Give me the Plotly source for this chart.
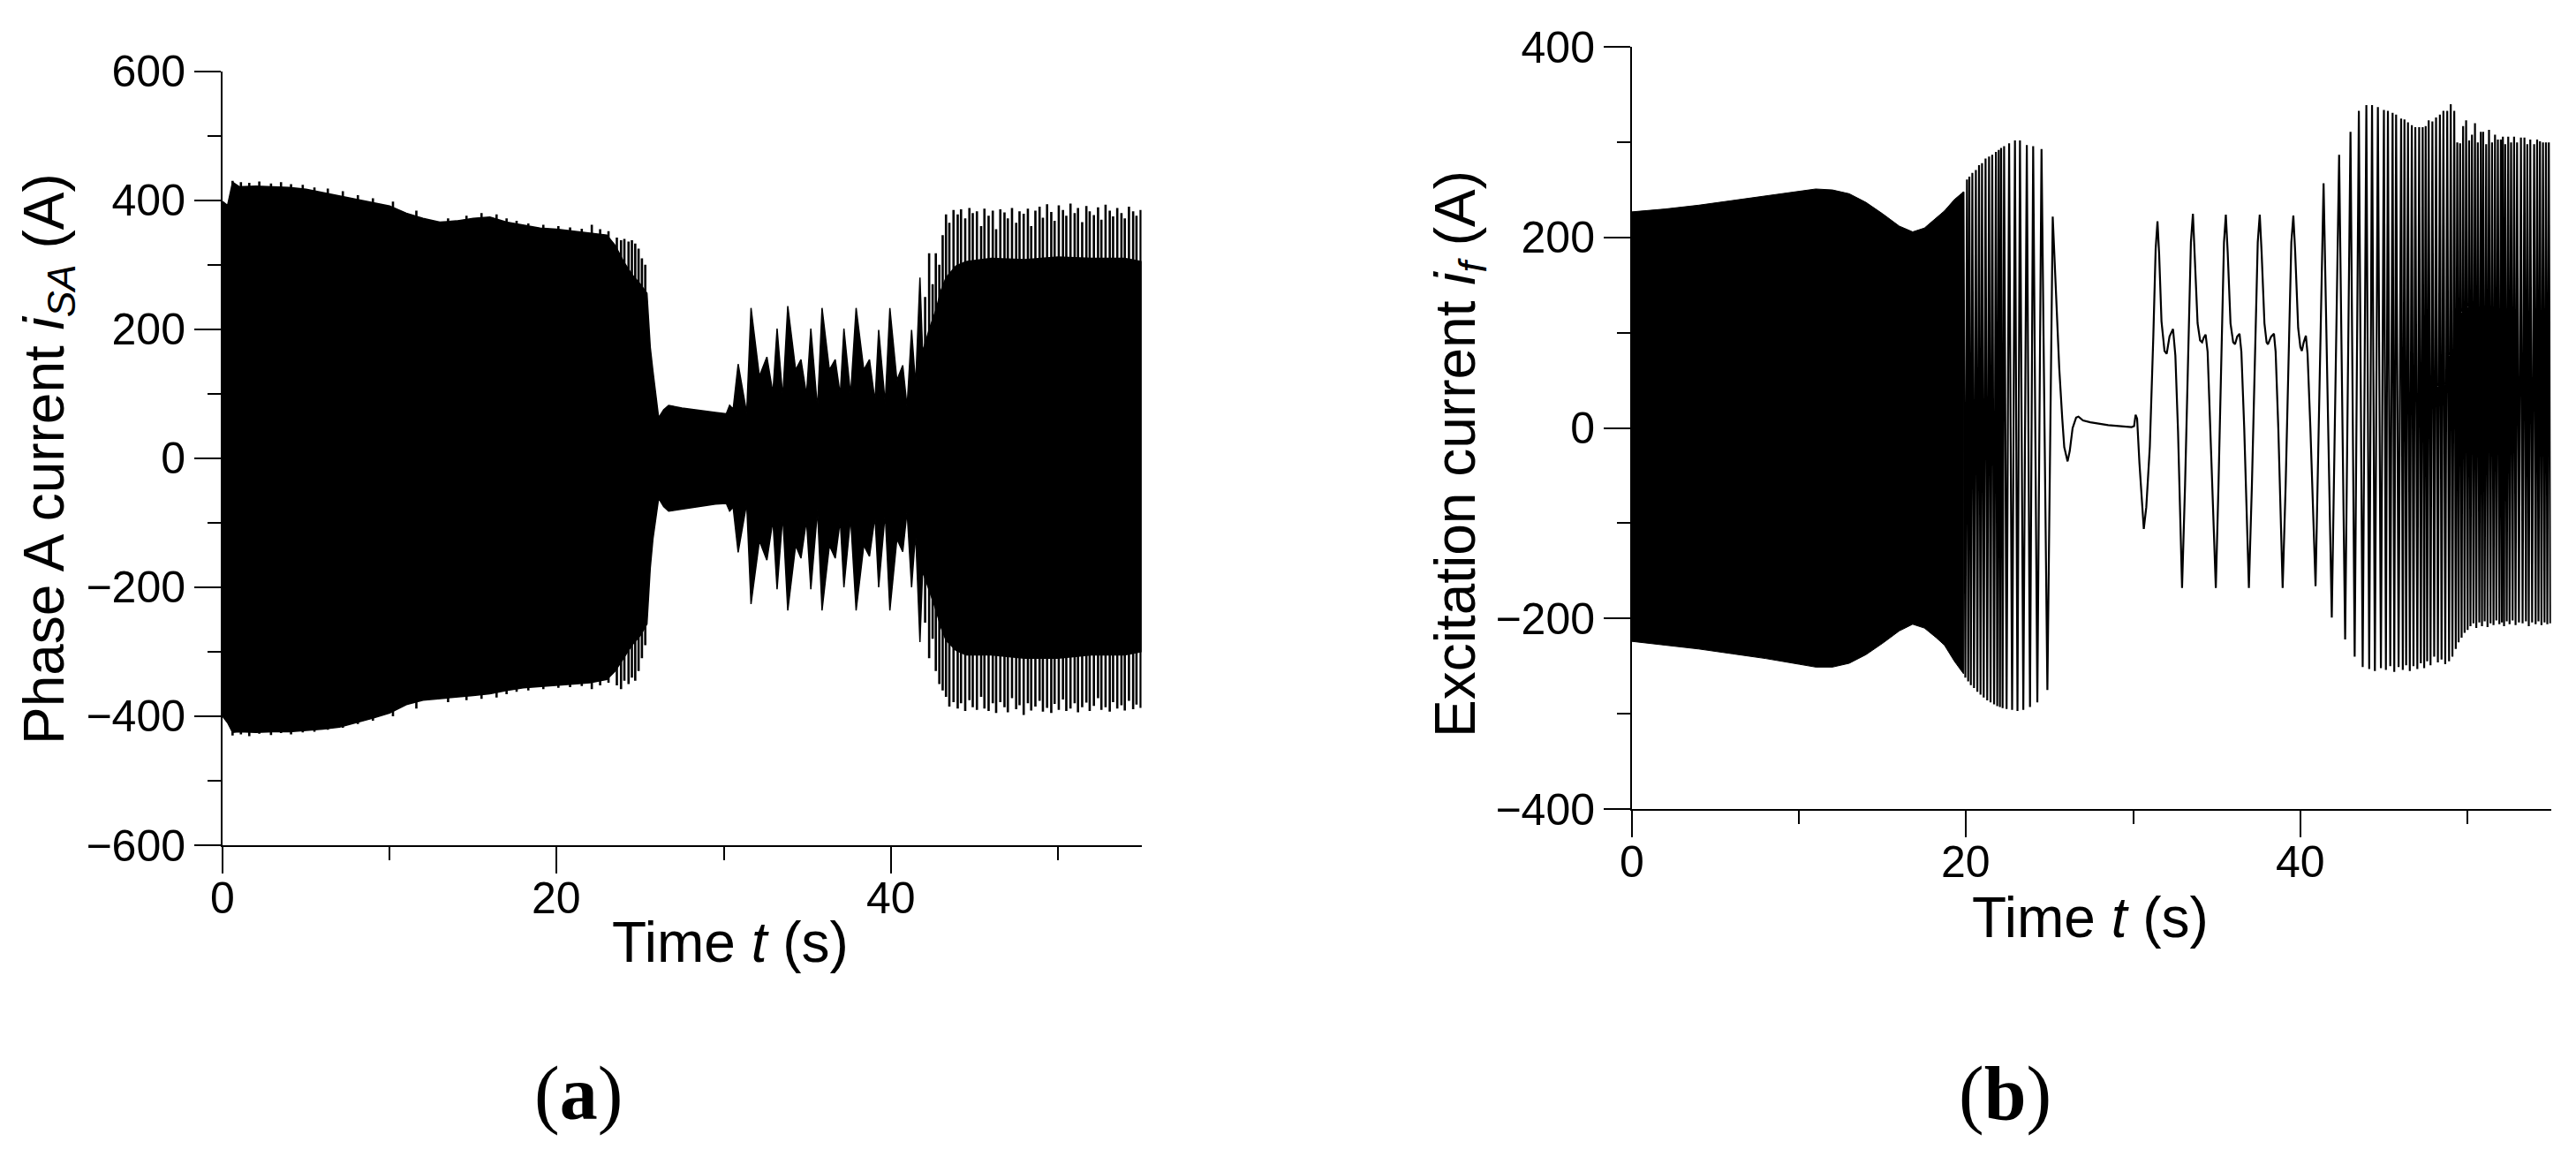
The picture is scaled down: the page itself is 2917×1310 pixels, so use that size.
import plotly.graph_objects as go

W, H = 2917, 1310

# ---------------- Panel (a): phase A current i_SA ----------------
# envelope of the dense oscillation (upper / lower), time in s, current in A
a_t = [0, 0.3, 0.6, 1, 2, 3, 4, 5, 6, 7, 8, 9, 10, 11, 12, 13, 14, 15, 16, 17, 18, 19, 20, 21, 22, 23,
       23.5, 24, 24.5, 25.0, 25.4, 25.6, 25.76, 26.1, 26.4, 26.7, 27.5, 28.5, 29.5,
       30.15, 30.35, 30.56, 30.86, 31.37, 31.63,
       32.13, 32.58, 32.94, 33.19, 33.53, 33.83,
       34.30, 34.62, 34.95, 35.21, 35.61, 35.88,
       36.32, 36.67, 36.97, 37.19, 37.59, 37.92,
       38.38, 38.72, 39.05, 39.27, 39.66, 39.94,
       40.36, 40.71, 40.97, 41.24, 41.48, 41.74,
       41.9, 42.3, 42.7, 43.0, 43.3, 43.9, 44.5, 46, 48, 50, 52, 54, 55]
a_up = [398, 392, 428, 421, 422, 421, 420, 417, 412, 407, 402, 397, 391, 380, 372, 366, 368, 372, 374, 366, 362, 357, 355, 352, 350, 346,
        330, 305, 285, 270, 256, 172, 135, 63, 75, 82, 78, 75, 71,
        69, 82, 76, 146, 70, 233,
        127, 157, 101, 201, 94, 236,
        137, 153, 98, 201, 76, 233,
        137, 153, 98, 201, 98, 233,
        137, 153, 88, 199, 85, 233,
        121, 144, 79, 199, 113, 280,
        165, 200, 230, 260, 280, 298, 305, 310, 308, 312, 310, 310, 305]
a_lo = [-400, -410, -425, -424, -425, -424, -424, -422, -420, -417, -410, -403, -395, -382, -375, -372, -370, -368, -365, -360, -356, -354, -352, -350, -348, -343,
        -330, -310, -290, -275, -257, -170, -125, -62, -75, -82, -79, -75, -71,
        -70, -82, -76, -146, -70, -226,
        -128, -158, -96, -203, -88, -236,
        -135, -155, -96, -203, -80, -236,
        -135, -155, -96, -200, -92, -236,
        -135, -152, -90, -200, -85, -236,
        -125, -145, -82, -200, -115, -285,
        -175, -205, -235, -262, -282, -298, -305, -305, -310, -310, -305, -305, -300]

# individual cycle peaks sticking out of the dense band
a_spk_t = [0.6, 1.1, 1.6, 2.2, 2.9, 3.5, 4.1, 4.8, 5.5, 6.3, 7.2, 8.1, 9.0, 10.2, 11.6, 13.5, 14.6, 15.5,
           16.4, 17.0, 17.6, 18.3, 19.2, 20.1, 20.8, 21.5, 22.1, 22.6, 23.1,
           23.6, 23.85, 24.05, 24.3, 24.5, 24.7, 24.9, 25.1, 25.3,
           42.05, 42.29, 42.5, 42.69, 42.9, 43.1, 43.3, 43.5, 43.75, 44.0, 44.2, 44.45, 44.7, 44.9,
           45.15, 45.4, 45.6, 45.85, 46.1, 46.3, 46.55, 46.8, 47.0, 47.25, 47.5, 47.7, 47.95, 48.2,
           48.4, 48.65, 48.9, 49.1, 49.35, 49.6, 49.8, 50.05, 50.3, 50.5, 50.75, 51.0, 51.2, 51.45,
           51.7, 51.9, 52.15, 52.4, 52.6, 52.85, 53.1, 53.3, 53.55, 53.8, 54.0, 54.25, 54.5, 54.7, 54.95]
a_spk_up = [430, 428, 427, 429, 426, 428, 425, 424, 420, 418, 414, 408, 403, 398, 384, 372, 376, 380,
            378, 372, 368, 364, 362, 360, 358, 356, 362, 355, 352,
            342, 338, 340, 336, 338, 333, 325, 310, 300,
            250, 318, 270, 318, 300, 346, 378, 365, 385, 378, 386, 372, 388, 380,
            383, 360, 387, 376, 384, 355, 386, 381, 372, 388, 365, 383, 379, 387,
            360, 384, 390, 373, 394, 382, 368, 392, 385, 376, 395, 380, 388, 366,
            391, 383, 377, 389, 370, 393, 384, 375, 388, 380, 372, 390, 383, 376, 385]
a_spk_lo = [-430, -428, -431, -427, -429, -426, -428, -425, -424, -421, -418, -412, -407, -400, -388, -378, -375, -373,
            -371, -366, -362, -360, -358, -356, -355, -353, -358, -352, -348,
            -352, -358, -345, -350, -340, -345, -330, -310, -290,
            -255, -310, -280, -330, -350, -360, -370, -385, -378, -388, -380, -392, -375, -386,
            -390, -370, -388, -392, -380, -395, -378, -386, -394, -372, -389, -383, -398, -380,
            -391, -385, -376, -393, -387, -395, -381, -390, -374, -392, -388, -380, -394, -386,
            -379, -392, -384, -372, -390, -386, -393, -378, -388, -383, -391, -376, -389, -382, -387]

# ---------------- Panel (b): excitation current i_f ----------------
b_band_t = [0, 2, 4, 6, 8, 10, 11, 12, 13, 14, 15, 16, 16.8, 17.5, 18.2, 18.7, 19.3, 19.84]
b_band_up = [227, 230, 234, 239, 244, 249, 251, 250, 246, 237, 225, 212, 206, 210, 220, 228, 240, 248]
b_band_lo = [-224, -228, -232, -237, -242, -248, -251, -251, -247, -238, -226, -213, -206, -210, -220, -228, -245, -258]

# visible oscillation lines 19.8-25.2 s (alternating peaks and troughs)
b_osc1_t = [19.84, 19.95, 20.05, 20.12, 20.19, 20.28, 20.37, 20.47, 20.58, 20.67, 20.77, 20.86, 20.95, 21.05,
            21.16, 21.26, 21.37, 21.46, 21.56, 21.67, 21.78, 21.86, 21.95, 22.02, 22.09, 22.18, 22.27, 22.42,
            22.57, 22.75, 22.92, 23.07, 23.22, 23.42, 23.63, 23.82, 24.01, 24.26, 24.51, 24.86, 25.18]
b_osc1_v = [248, -262, 261, -266, 264, -270, 268, -273, 271, -277, 276, -280, 278, -283,
            283, -286, 285, -288, 287, -290, 290, -292, 292, -293, 294, -294, 296, -295,
            299, -296, 302, -297, 302, -296, 297, -293, 296, -288, 293, -275, 222]

# slow waveform 25.2-41 s
b_wave_t = [25.18, 25.39, 25.57, 25.75, 25.87, 26.07, 26.2, 26.37, 26.58, 26.72, 26.99, 27.43, 28.5, 29.9,
            30.05, 30.14, 30.23, 30.37, 30.55, 30.63, 30.78, 30.99, 31.2, 31.34, 31.45, 31.55, 31.69, 31.87,
            32.0, 32.17, 32.38, 32.52, 32.68, 32.82, 32.92,
            33.1, 33.3, 33.45, 33.57, 33.68, 33.85, 34.0, 34.12, 34.22, 34.33, 34.45, 34.62, 34.8, 34.94,
            35.1, 35.3, 35.43, 35.54, 35.65, 35.82, 35.98, 36.09, 36.22, 36.36, 36.47, 36.64, 36.8, 36.92,
            37.1, 37.3, 37.45, 37.57, 37.68, 37.85, 37.98, 38.06, 38.25, 38.42, 38.52, 38.68, 38.83, 38.94,
            39.12, 39.32, 39.46, 39.58, 39.69, 39.87, 40.0, 40.09, 40.2, 40.33, 40.43, 40.6, 40.78, 40.91]
b_wave_v = [222, 129, 63, 10, -20, -35, -24, 0, 11, 12, 8, 6, 3, 1,
            2, 14, 10, -37, -90, -106, -83, -20, 96, 188, 217, 182, 112, 81,
            78, 96, 104, 76, -4, -86, -168,
            -60, 90, 195, 225, 185, 110, 92, 90, 95, 98, 80, 0, -100, -168,
            -60, 90, 195, 224, 185, 110, 90, 88, 96, 99, 80, 0, -100, -168,
            -60, 90, 195, 224, 185, 110, 90, 88, 96, 99, 80, 0, -100, -168,
            -60, 90, 195, 223, 185, 105, 85, 81, 90, 97, 78, 0, -100, -166]

# fast oscillation 41-55 s: peaks and troughs
b_pk_t = [41.39, 42.32, 43.0, 43.5, 43.95, 44.29, 44.64, 45.0, 45.24, 45.52, 45.73, 46.03, 46.23, 46.44,
          46.67, 46.88, 47.11, 47.32, 47.5, 47.68, 47.9, 48.12, 48.35, 48.56, 48.79, 49.0, 49.21, 49.39,
          49.56, 49.74, 49.92, 50.1, 50.27, 50.45, 50.62, 50.8, 50.94, 51.12, 51.29, 51.47, 51.65, 51.82,
          52.0, 52.12, 52.26, 52.44, 52.61, 52.79, 52.97, 53.2, 53.41, 53.58, 53.76, 53.99, 54.17, 54.34,
          54.52, 54.7, 54.87]
b_pk_v = [257, 287, 311, 333, 339, 339, 337, 334, 333, 331, 329, 325, 324, 321,
          318, 316, 316, 316, 317, 323, 322, 326, 329, 333, 333, 340, 333, 300,
          299, 317, 323, 302, 308, 320, 300, 311, 311, 298, 313, 300, 308, 303,
          303, 306, 298, 306, 300, 306, 300, 305, 305, 298, 303, 298, 303, 301,
          300, 300, 300]
b_tr_t = [41.88, 42.68, 43.25, 43.73,
          44.12, 44.46, 44.82, 45.12, 45.38, 45.62, 45.88, 46.13, 46.33, 46.55,
          46.77, 47.0, 47.21, 47.41, 47.59, 47.79, 48.01, 48.23, 48.45, 48.67,
          48.9, 49.1, 49.3, 49.47, 49.65, 49.83, 50.01, 50.18, 50.36, 50.53,
          50.71, 50.87, 51.03, 51.2, 51.38, 51.56, 51.73, 51.91, 52.06, 52.19,
          52.35, 52.52, 52.7, 52.88, 53.08, 53.3, 53.5, 53.67, 53.87, 54.08,
          54.25, 54.43, 54.61, 54.78, 54.96]
b_tr_v = [-199, -222, -240, -251,
          -253, -255, -252, -254, -250, -256, -251, -254, -249, -255,
          -250, -253, -247, -252, -245, -249, -240, -246, -243, -248,
          -245, -240, -232, -225, -220, -215, -212, -208, -205, -210,
          -204, -208, -203, -209, -205, -207, -202, -206, -204, -208,
          -203, -206, -202, -207, -204, -205, -203, -208, -204, -206,
          -203, -207, -204, -206, -205]

x_ticks = [0, 20, 40]
a_y_ticks = [-600, -400, -200, 0, 200, 400, 600]
b_y_ticks = [-400, -200, 0, 200, 400]

# ---------------- build figure ----------------
fig = go.Figure()
BLK = "black"

# (a) dense band
fig.add_trace(go.Scatter(x=a_t + a_t[::-1], y=a_up + a_lo[::-1], fill="toself", fillcolor=BLK,
                         mode="lines", line=dict(color=BLK, width=1.5), xaxis="x", yaxis="y",
                         hoverinfo="skip", showlegend=False))
# (a) spikes
sx, sy = [], []
for t, u, l in zip(a_spk_t, a_spk_up, a_spk_lo):
    sx += [t, t, None]
    sy += [l, u, None]
fig.add_trace(go.Scatter(x=sx, y=sy, mode="lines", line=dict(color=BLK, width=2.6),
                         xaxis="x", yaxis="y", hoverinfo="skip", showlegend=False))

# (b) dense band
fig.add_trace(go.Scatter(x=b_band_t + b_band_t[::-1], y=b_band_up + b_band_lo[::-1], fill="toself",
                         fillcolor=BLK, mode="lines", line=dict(color=BLK, width=1),
                         xaxis="x2", yaxis="y2", hoverinfo="skip", showlegend=False))
# (b) oscillation + waveform + fast oscillation as one line
pts = sorted(list(zip(b_pk_t, b_pk_v)) + list(zip(b_tr_t, b_tr_v)))
bx = b_osc1_t + b_wave_t[1:] + [p[0] for p in pts]
by = b_osc1_v + b_wave_v[1:] + [p[1] for p in pts]
fig.add_trace(go.Scatter(x=bx, y=by, mode="lines", line=dict(color=BLK, width=2.2),
                         xaxis="x2", yaxis="y2", hoverinfo="skip", showlegend=False))

FONT = "Liberation Sans, Arial, sans-serif"
TICKFONT = dict(family=FONT, size=50, color=BLK)
TITLEFONT = dict(family=FONT, size=64, color=BLK)
LABFONT = dict(family="Liberation Serif, Times New Roman, serif", size=86, color=BLK)


def xax(domain, anchor):
    return dict(domain=domain, anchor=anchor, range=[0, 55], tickmode="array", tickvals=x_ticks,
                showticklabels=False,
                ticks="outside", ticklen=30, tickwidth=2, tickcolor=BLK,
                minor=dict(dtick=10, tick0=0, ticks="outside", ticklen=15, tickwidth=2, tickcolor=BLK),
                showline=True, linecolor=BLK, linewidth=2, showgrid=False, zeroline=False,
                fixedrange=True, automargin=False)


def yax(domain, anchor, rng, tv):
    return dict(domain=domain, anchor=anchor, range=rng, tickmode="array", tickvals=tv,
                ticks="outside", ticklen=30, tickwidth=2, tickcolor=BLK,
                minor=dict(dtick=100, tick0=0, ticks="outside", ticklen=15, tickwidth=2, tickcolor=BLK),
                showline=True, linecolor=BLK, linewidth=2, showgrid=False, zeroline=False,
                tickfont=TICKFONT, fixedrange=True, automargin=False)


def px(x):
    return x / W


def py(y):
    return 1 - y / H


fig.update_layout(
    width=W, height=H, margin=dict(l=0, r=0, t=0, b=0, autoexpand=False),
    paper_bgcolor="white", plot_bgcolor="white", showlegend=False,
    xaxis=xax([px(252), px(1292.6)], "y"),
    yaxis=yax([py(957), py(80.7)], "x", [-600, 600], a_y_ticks),
    xaxis2=xax([px(1848), px(2888.7)], "y2"),
    yaxis2=yax([py(916), py(53.3)], "x2", [-400, 400], b_y_ticks),
)

ann = [
    dict(text="Phase A current <i>i</i><sub><i>SA</i></sub> (A)", x=px(54), y=py(520), textangle=-90,
         font=TITLEFONT),
    dict(text="Time <i>t</i> (s)", x=px(827), y=py(1067), font=TITLEFONT),
    dict(text="Excitation current <i>i<sub>f</sub></i> (A)", x=px(1652), y=py(514), textangle=-90,
         font=TITLEFONT),
    dict(text="Time <i>t</i> (s)", x=px(2367), y=py(1039), font=TITLEFONT),
    dict(text="(<b>a</b>)", x=px(655), y=py(1238), font=LABFONT),
    dict(text="(<b>b</b>)", x=px(2270), y=py(1238), font=LABFONT),
]
for a in ann:
    a.update(xref="paper", yref="paper")
# x tick labels placed on the data axis
for xr, ycen in (("x", 1017), ("x2", 976)):
    for v in x_ticks:
        ann.append(dict(text=str(v), x=v, xref=xr, y=py(ycen), yref="paper", font=TICKFONT))
for a in ann:
    a.update(xanchor="center", yanchor="middle", showarrow=False)
fig.update_layout(annotations=ann)

fig.write_html("out.html", config={"displayModeBar": False},
               post_script="document.body.style.margin='0';document.body.style.overflow='hidden';")
